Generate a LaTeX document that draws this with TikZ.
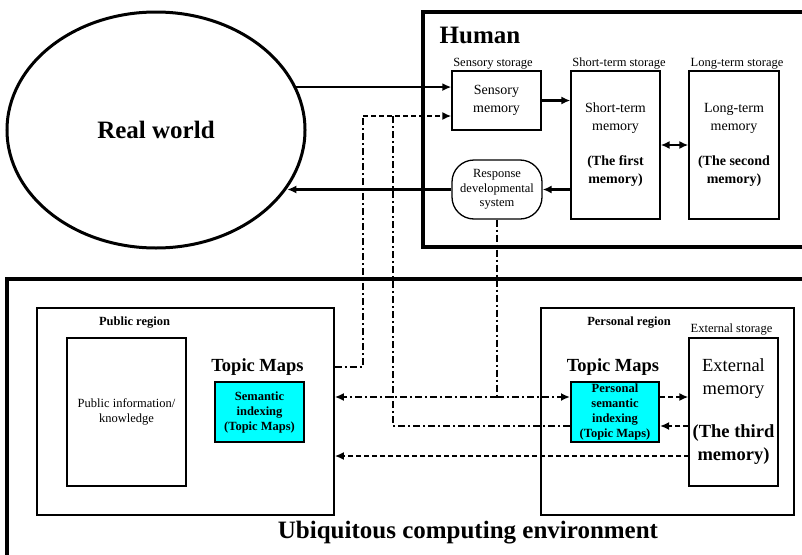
\documentclass[tikz,border=0pt]{standalone}
\usepackage{fontspec}
\setmainfont{Liberation Serif}
\usepackage{xcolor}
\usepackage{tikz}
\usetikzlibrary{arrows,arrows.meta,shapes}

\definecolor{idxcyan}{RGB}{0,255,255}

\tikzset{
  frame/.style={draw, line width=3.2pt},
  region/.style={draw, line width=1.6pt, inner sep=0pt},
  box/.style={draw, line width=1.3pt, align=center, inner sep=1pt},
  idx/.style={box, line width=2pt, fill=idxcyan, font=\fontsize{12.5}{15}\selectfont\bfseries},
  storelbl/.style={font=\fontsize{12.5}{15}\selectfont},
  reglbl/.style={font=\fontsize{12.5}{15}\selectfont\bfseries},
  title/.style={font=\fontsize{25}{30}\selectfont\bfseries},
  tmlabel/.style={font=\fontsize{18.5}{22}\selectfont\bfseries},
  tip/.style={-{Latex[length=9pt,width=8pt]}},
  arr/.style={line width=2.3pt, tip},
  dashdot/.style={line width=2.3pt, dash pattern=on 7pt off 3pt on 2pt off 3pt},
  dashline/.style={line width=2.3pt, dash pattern=on 5pt off 3pt}
}

\begin{document}
\begin{tikzpicture}[x=1pt, y=-1pt]
  \useasboundingbox (0,0) rectangle (802,554);
  \clip (0,0) rectangle (802,554);

  % outer frames
  \draw[frame] (423,12) rectangle (830,247);
  \draw[frame] (7,279) rectangle (830,600);
  \node[title] (human) at (480,35) {Human};
  \node[title] (ubi) at (468,533) {Ubiquitous computing environment};

  % real world
  \node[ellipse, draw, line width=3pt, minimum width=298pt, minimum height=236pt, title] (world) at (156,130) {Real world};

  % human memory
  \node[storelbl] at (493,64) {Sensory storage};
  \node[storelbl] at (619,64) {Short-term storage};
  \node[storelbl] at (737,64) {Long-term storage};
  \node[box, minimum width=89pt, minimum height=59pt, font=\fontsize{14}{17.5}\selectfont] (sens) at (496.5,100.5) {Sensory\\memory};
  \node[box, minimum width=89pt, minimum height=148pt, font=\fontsize{14}{18}\selectfont] (stm) at (615.5,145) {Short-term\\memory\\[17pt]\textbf{(The first}\\\textbf{memory)}};
  \node[box, minimum width=90pt, minimum height=148pt, font=\fontsize{14}{18}\selectfont] (ltm) at (734,145) {Long-term\\memory\\[17pt]\textbf{(The second}\\\textbf{memory)}};
  \node[box, rounded corners=22pt, minimum width=90pt, minimum height=59pt, font=\fontsize{12.5}{14.5}\selectfont] (resp) at (497,189.5) {Response\\developmental\\system};

  % public region
  \node[region, minimum width=297pt, minimum height=207pt] (pub) at (185.5,411.5) {};
  \node[reglbl] at (134.5,323) {Public region};
  \node[box, minimum width=119pt, minimum height=148pt, font=\fontsize{12.5}{14.7}\selectfont] (pubinfo) at (126.5,412) {Public information/\\knowledge};
  \node[tmlabel] (tmpub) at (257.5,367) {Topic Maps};
  \node[idx, minimum width=89pt, minimum height=60pt] (sem) at (259.5,412) {Semantic\\indexing\\(Topic Maps)};

  % personal region
  \node[region, minimum width=253pt, minimum height=207pt] (pers) at (667.5,411.5) {};
  \node[reglbl] at (629,323) {Personal region};
  \node[storelbl] at (731.5,330) {External storage};
  \node[box, minimum width=89pt, minimum height=148pt, font=\fontsize{18.5}{23}\selectfont] (ext) at (733.5,412) {External\\memory\\[20pt]\textbf{(The third}\\\textbf{memory)}};
  \node[tmlabel] (tmpers) at (613,367) {Topic Maps};
  \node[idx, minimum width=88pt, minimum height=60pt, inner sep=0pt] (psem) at (615,412) {Personal\\semantic\\indexing\\(Topic Maps)};

  % solid flows
  \draw[arr] (world.17.6) -- (world.17.6 -| sens.west);
  \draw[arr] (sens.east) -- (sens.east -| stm.west);
  \draw[arr, {Latex[length=9pt,width=8pt]}-{Latex[length=9pt,width=8pt]}] (stm.east) -- (ltm.west);
  \draw[arr] (stm.west |- resp.east) -- (resp.east);
  \draw[arr] (resp.west) -- (resp.west -| world.-24.6);

  % dashed flows
  \coordinate (hiA) at (363,116);
  \coordinate (hiB) at (393,116);
  \coordinate (loB) at (393,426);
  \coordinate (fork) at (497,397);
  \coordinate (ret) at (689,456);
  \draw[dashdot] (tmpub -| pub.east) -| (hiA);
  \draw[dashdot] (loB -| psem.west) -- (loB) -- (hiB);
  \draw[dashline, tip] (hiA) -- (hiA -| sens.west);
  \draw[dashdot] (resp.south) -- (fork);
  \draw[dashdot, tip] (fork) -- (fork -| pub.east);
  \draw[dashdot, tip] (fork) -- (fork -| psem.west);
  \draw[dashline, tip] (fork -| psem.east) -- (fork -| ext.west);
  \draw[dashline, tip] (loB -| ext.west) -- (loB -| psem.east);
  \draw[dashline, tip] (ret) -- (ret -| pub.east);
\end{tikzpicture}
\end{document}
